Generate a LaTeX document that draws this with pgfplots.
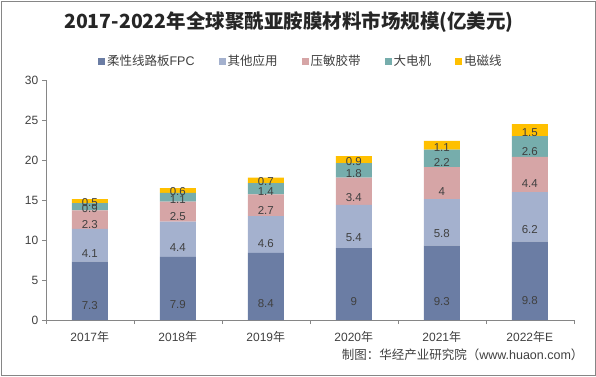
\documentclass[border=0pt]{standalone}
\usepackage{pgfplots}
\pgfplotsset{compat=1.18}
\usepackage{pgfplotstable}
\usepackage{fontspec}
\setmainfont{Liberation Sans}
\newfontfamily\cjk{Noto Sans CJK SC}
\definecolor{cFPC}{RGB}{107,125,164}
\definecolor{cOth}{RGB}{164,177,206}
\definecolor{cTape}{RGB}{214,165,166}
\definecolor{cMot}{RGB}{118,173,172}
\definecolor{cWire}{RGB}{255,192,0}
\definecolor{txt}{RGB}{64,64,64}
\definecolor{axc}{RGB}{134,134,134}
\pgfplotstableread{
x fpc oth tape motor wire
0 7.3 4.1 2.3 0.9 0.5
1 7.9 4.4 2.5 1.1 0.6
2 8.4 4.6 2.7 1.4 0.7
3 9.0 5.4 3.4 1.8 0.9
4 9.3 5.8 4.0 2.2 1.1
5 9.8 6.2 4.4 2.6 1.5
}\data
\begin{document}
\begin{tikzpicture}[x=1pt,y=1pt]
\path[use as bounding box] (0,0) rectangle (596,376);
\draw[axc,line width=0.8pt] (1,1) rectangle (595,375);
\node[font=\cjk\bfseries\fontsize{19.5}{22}\selectfont, text=black!85] at (289,354) {2017-2022年全球聚酰亚胺膜材料市场规模(亿美元)};
\node[font=\cjk\fontsize{12.5}{14}\selectfont, text=txt, anchor=east] at (587,21) {制图：华经产业研究院（{\rmfamily www.huaon.com}）};
\begin{axis}[
  at={(52,70)}, anchor=south west,
  scale only axis, width=528pt, height=240pt,
  ybar stacked, bar width=36pt,
  xmin=-0.5, xmax=5.5, ymin=0, ymax=30,
  ytick={0,5,...,30},
  xtick={0,...,5},
  xticklabels={2017{\cjk 年},2018{\cjk 年},2019{\cjk 年},2020{\cjk 年},2021{\cjk 年},2022{\cjk 年}E},
  minor xtick={-0.5,0.5,...,5.5},
  major x tick style={draw=none},
  minor x tick style={axc},
  y tick style={axc},
  tick align=outside,
  major tick length=4pt, minor tick length=4pt,
  axis x line*=bottom, axis y line*=left,
  axis line style={axc},
  tick label style={font=\fontsize{12}{14}\selectfont, text=txt},
  /pgf/number format/assume math mode=true,
  xticklabel style={yshift=-4pt},
  clip=false,
  point meta=explicit,
  visualization depends on={rawy \as \val},
  nodes near coords,
  nodes near coords style={font=\fontsize{11.5}{13}\selectfont, text=txt, anchor=center, yshift={-\val*2pt}},
  legend columns=5,
  legend style={draw=none, at={(0.483,1.079)}, anchor=center, font=\cjk\fontsize{12.5}{14}\selectfont, text=txt,
    /tikz/every even column/.append style={column sep=22pt}},
  legend image code/.code={\fill[#1] (0pt,-3.5pt) rectangle (7pt,3.5pt);},
]
\addplot[fill=cFPC, draw=none] table[x=x,y=fpc,meta=fpc]{\data};
\addplot[fill=cOth, draw=none] table[x=x,y=oth,meta=oth]{\data};
\addplot[fill=cTape, draw=none] table[x=x,y=tape,meta=tape]{\data};
\addplot[fill=cMot, draw=none] table[x=x,y=motor,meta=motor]{\data};
\addplot[fill=cWire, draw=none] table[x=x,y=wire,meta=wire]{\data};
\legend{柔性线路板{\rmfamily FPC},其他应用,压敏胶带,大电机,电磁线}
\end{axis}
\end{tikzpicture}
\end{document}
